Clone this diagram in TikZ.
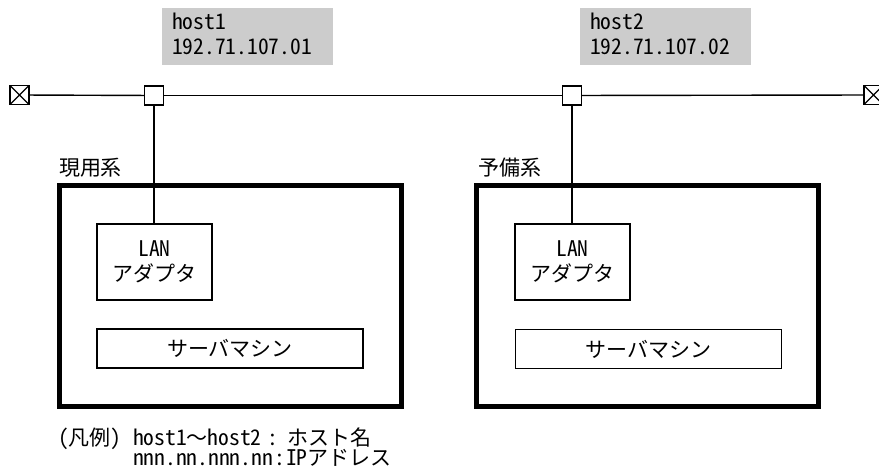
\documentclass[tikz,border=0pt]{standalone}
\usepackage{fontspec}
\setmainfont{Noto Sans CJK JP}
\newfontfamily\hwf{Noto Sans CJK JP}[RawFeature=+hwid]
\newcommand\hw{\hwf\fontsize{21.5}{25}\selectfont}
\begin{document}
\begin{tikzpicture}[x=1pt,y=-1pt,
  every node/.style={font=\fontsize{21}{25}\selectfont, inner sep=0pt, outer sep=0pt},
  conn/.style={line width=1.4pt},
  term/.style={draw, line width=1.4pt, fill=white, minimum size=19pt,
    path picture={\draw[line width=1.4pt] (path picture bounding box.north west) -- (path picture bounding box.south east)
      (path picture bounding box.south west) -- (path picture bounding box.north east);}},
  tap/.style={draw, line width=1.4pt, fill=white, minimum size=19pt},
  hostbox/.style={fill=black!20, minimum width=171pt, minimum height=57pt, anchor=north west},
  txt/.style={anchor=base west},
  ctxt/.style={anchor=base},
  sysbox/.style={draw, line width=5pt, minimum width=342pt, minimum height=221pt, anchor=north west},
  lanbox/.style={draw, line width=1.4pt, minimum width=115pt, minimum height=76pt, align=center},
  srvbox/.style={draw, line width=1.4pt, minimum width=266pt, minimum height=39pt}
]
\useasboundingbox (0,0) rectangle (879,473);
\fill[white] (0,0) rectangle (879,473);

% host labels
\node[hostbox] (hb1) at (162,8) {};
\node[txt] (hn1) at (172,30) {\hw host1};
\node[txt] (hi1) at (172,55) {\hw 192.71.107.01};
\node[hostbox] (hb2) at (580,8) {};
\node[txt] (hn2) at (590,30) {\hw host2};
\node[txt] (hi2) at (590,55) {\hw 192.71.107.02};

% bus
\node[term] (tL) at (19.5,95) {};
\node[term] (tR) at (873.5,95) {};
\node[tap] (tap1) at (154,95.5) {};
\node[tap] (tap2) at (572,95.5) {};
\draw[conn] (tL) -- (tap1);
\draw[conn] (tap1) -- (tap2);
\draw[conn] (tap2) -- (tR);

% systems
\node[sysbox] (sys1) at (59.5,185.5) {};
\node[sysbox] (sys2) at (476.5,185.5) {};
\node[txt] (l1) at (59,176) {現用系};
\node[txt] (l2) at (478,176) {予備系};

\node[lanbox] (lan1) at (154.5,262) {{\hw LAN}\\アダプタ};
\node[lanbox] (lan2) at (572.5,262) {{\hw LAN}\\アダプタ};
\node[srvbox] (srv1) at (230,348.5) {サーバマシン};
\node[srvbox] (srv2) at (648.5,349) {サーバマシン};

\draw[conn] (tap1.south) -- (tap1.south |- lan1.north);
\draw[conn] (tap2.south) -- (tap2.south |- lan2.north);

% legend
\node[txt] (lg0) at (58,445) {{\hw (}凡例{\hw )}};
\node[txt] (lg1) at (133,445) {{\hw host1}～{\hw host2}};
\node[ctxt] (lgc1) at (273,445) {{\hw :}};
\node[txt] (lg2) at (287,445) {ホスト名};
\node[txt] (lg3) at (133,465) {{\hw nnn.nn.nnn.nn}};
\node[ctxt] (lgc2) at (280,465) {{\hw :}};
\node[txt] (lg4) at (286,465) {{\hw IP}アドレス};
\end{tikzpicture}
\end{document}
